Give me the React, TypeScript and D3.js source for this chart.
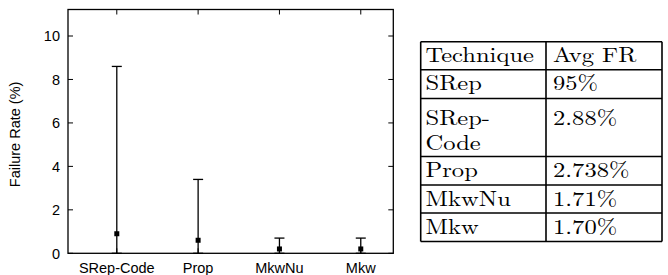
import React from "react";
import * as d3 from "d3";

const categories = ["SRep-Code", "Prop", "MkwNu", "Mkw"];
const lowValues = [0, 0, 0, 0];
const meanValues = [0.9, 0.6, 0.2, 0.2];
const highValues = [8.6, 3.4, 0.7, 0.7];
const yTicks = [0, 2, 4, 6, 8, 10];

const tableHeader = ["Technique", "Avg FR"];
const tableTechniques = [["SRep"], ["SRep-", "Code"], ["Prop"], ["MkwNu"], ["Mkw"]];
const tableRates = ["95%", "2.88%", "2.738%", "1.71%", "1.70%"];

export default function App() {
  const W = 668, H = 275;
  const left = 68, right = 393.3, top = 9.5, bottom = 253.3;
  const x = d3.scaleLinear().domain([-0.6, 3.4]).range([left, right]);
  const y = d3.scaleLinear().domain([0, 11.22]).range([bottom, top]);
  const sans = "'Liberation Sans', Arial, sans-serif";
  const serif = "'Latin Modern Roman', 'Liberation Serif', serif";
  const tick = 5;
  const cap = 5;

  const tX = [420.7, 546, 662];
  const textX = [425.5, 553];
  const rowBounds = [41.7, 69.7, 98.5, 156.5, 185, 213, 241.5];
  const stretch = 1.17;
  const rows = [tableHeader.map((t) => [t]), ...tableTechniques.map((t, i) => [t, [tableRates[i]]])];
  const multiRow = (ri: number) => rows[ri].some((c) => c.length > 1);

  return (
    <svg width={W} height={H} style={{ position: "absolute", left: 0, top: 0 }}>
      <rect x={0} y={0} width={W} height={H} fill="white" />
      <rect x={left} y={top} width={right - left} height={bottom - top} fill="none" stroke="black" strokeWidth={1.3} />
      {yTicks.map((t) => (
        <g key={t}>
          <line x1={left} x2={left + tick} y1={y(t)} y2={y(t)} stroke="black" strokeWidth={1} />
          <line x1={right} x2={right - tick} y1={y(t)} y2={y(t)} stroke="black" strokeWidth={1} />
          <text x={left - 8} y={y(t)} dy="0.36em" textAnchor="end" style={{ fontFamily: sans }} fontSize={14.5}>
            {t}
          </text>
        </g>
      ))}
      {categories.map((c, i) => (
        <g key={c}>
          <line x1={x(i)} x2={x(i)} y1={top} y2={top + tick} stroke="black" strokeWidth={1} />
          <line x1={x(i)} x2={x(i)} y1={bottom} y2={bottom - tick} stroke="black" strokeWidth={1} />
          <text x={x(i)} y={273} textAnchor="middle" style={{ fontFamily: sans }} fontSize={14.5}>
            {c}
          </text>
        </g>
      ))}
      {categories.map((c, i) => (
        <g key={"e" + c} stroke="black" strokeWidth={1.3}>
          <line x1={x(i)} x2={x(i)} y1={y(lowValues[i])} y2={y(highValues[i])} />
          <line x1={x(i) - cap} x2={x(i) + cap} y1={y(highValues[i])} y2={y(highValues[i])} />
          <line x1={x(i) - cap} x2={x(i) + cap} y1={y(lowValues[i])} y2={y(lowValues[i])} />
          <rect x={x(i) - 2.5} y={y(meanValues[i]) - 2.5} width={5} height={5} fill="black" stroke="none" />
        </g>
      ))}
      <text
        transform={`translate(${20},${(top + bottom) / 2 + 3}) rotate(-90)`}
        textAnchor="middle"
        style={{ fontFamily: sans }}
        fontSize={14.5}
      >
        Failure Rate (%)
      </text>

      <g>
        {rowBounds.map((b, i) => (
          <line key={"h" + i} x1={tX[0]} x2={tX[2]} y1={b} y2={b} stroke="black" strokeWidth={1.6} />
        ))}
        {tX.map((cx, i) => (
          <line key={"v" + i} x1={cx} x2={cx} y1={rowBounds[0]} y2={rowBounds[rowBounds.length - 1]} stroke="black" strokeWidth={1.6} />
        ))}
        {rows.map((r, ri) =>
          r.map((cell, ci) =>
            cell.map((ln, li) => (
              <text
                key={`${ri}-${ci}-${li}`}
                transform={`translate(${textX[ci]},${rowBounds[ri] + (multiRow(ri) ? 26.5 : 20.5) + li * 25}) scale(${stretch},1)`}
                style={{ fontFamily: serif }}
                fontSize={21}
              >
                {ln}
              </text>
            ))
          )
        )}
      </g>
    </svg>
  );
}
